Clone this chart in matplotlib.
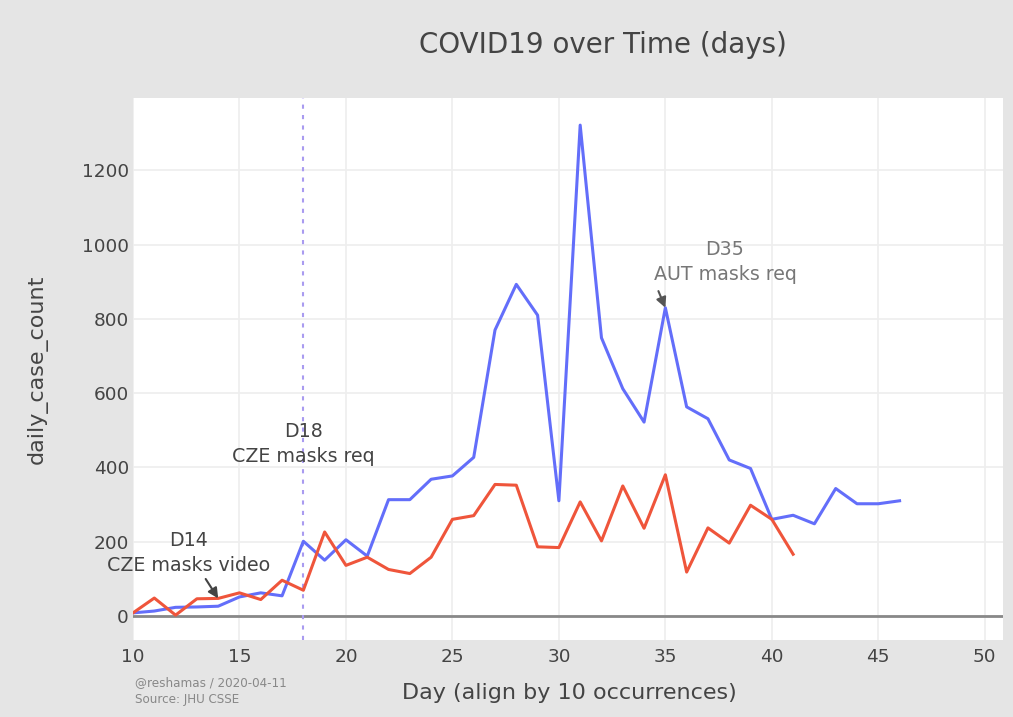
import numpy as np
import matplotlib
matplotlib.use("Agg")
from matplotlib import pyplot as plt

plt.rcParams['font.family'] = ['DejaVu Sans']

# Data ------------------------------------------
days_blue = list(range(10, 47))
cases_blue = [8, 13, 23, 24, 26, 51, 62, 54, 201, 150, 205, 161, 313, 313, 368, 377,
              427, 770, 893, 810, 310, 1322, 749, 612, 522, 830, 563, 531, 420, 397,
              260, 271, 248, 343, 302, 302, 310]

days_red = list(range(10, 42))
cases_red = [8, 48, 2, 46, 47, 62, 44, 96, 69, 226, 136, 158, 125, 114, 158, 260,
             270, 354, 352, 186, 184, 307, 202, 350, 236, 380, 118, 237, 196, 298,
             260, 166]

x_ticks = [10, 15, 20, 25, 30, 35, 40, 45, 50]
y_ticks = [0, 200, 400, 600, 800, 1000, 1200]

# Figure ----------------------------------------
fig = plt.figure(figsize=(10.13, 7.17), dpi=100, facecolor='#e5e5e5')
ax = fig.add_axes([0.1313, 0.1074, 0.8587, 0.7559])
ax.set_facecolor('white')

ax.set_xlim(10, 50.85)
ax.set_ylim(-65, 1395)
ax.set_xticks(x_ticks)
ax.set_yticks(y_ticks)
ax.grid(True, color='#eeeeee', lw=1.2)
ax.set_axisbelow(True)
for s in ax.spines.values():
    s.set_visible(False)
ax.tick_params(length=0, labelsize=13.3, colors='#444444')
ax.tick_params(axis='y', pad=3)
ax.tick_params(axis='x', pad=6)

ax.axhline(0, color='#888888', lw=2, zorder=1)
ax.axvline(18, color='#a99bf0', lw=1.5, ls=(0, (2, 3)), zorder=1)

ax.plot(days_blue, cases_blue, color='#636efa', lw=2.2, zorder=3)
ax.plot(days_red, cases_red, color='#ef553b', lw=2.2, zorder=3)

# Annotations -----------------------------------
ax.text(12.6, 170, 'D14\nCZE masks video', ha='center', va='center',
        fontsize=13.7, color='#444444', linespacing=1.4, zorder=5)
ax.annotate('', xy=(14, 47), xytext=(-9, 14), textcoords='offset points',
            arrowprops=dict(arrowstyle='-|>', color='#444444', lw=1.5,
                            mutation_scale=15, shrinkA=0, shrinkB=0))

ax.text(18, 463, 'D18\nCZE masks req', ha='center', va='center',
        fontsize=13.7, color='#444444', linespacing=1.4, zorder=5)

ax.text(37.8, 953, 'D35\nAUT masks req', ha='center', va='center',
        fontsize=13.7, color='#777777', linespacing=1.4, zorder=5)
ax.annotate('', xy=(35, 830), xytext=(-5, 12), textcoords='offset points',
            arrowprops=dict(arrowstyle='-|>', color='#555555', lw=1.5,
                            mutation_scale=15, shrinkA=0, shrinkB=0))

# Labels ----------------------------------------
fig.text(0.595, 0.937, 'COVID19 over Time (days)', ha='center', va='center',
         fontsize=20, color='#444444')
ax.set_xlabel('Day (align by 10 occurrences)', fontsize=16, color='#444444')
ax.xaxis.set_label_coords(0.502, -0.08)
ax.set_ylabel('daily_case_count', fontsize=16, color='#444444')
ax.yaxis.set_label_coords(-0.098, 0.5)
fig.text(0.133, 0.036, '@reshamas / 2020-04-11\nSource: JHU CSSE', ha='left', va='center',
         fontsize=9.5, color='#888888', linespacing=1.45, fontstretch='condensed')

plt.savefig('out.png', dpi=100, facecolor=fig.get_facecolor())
